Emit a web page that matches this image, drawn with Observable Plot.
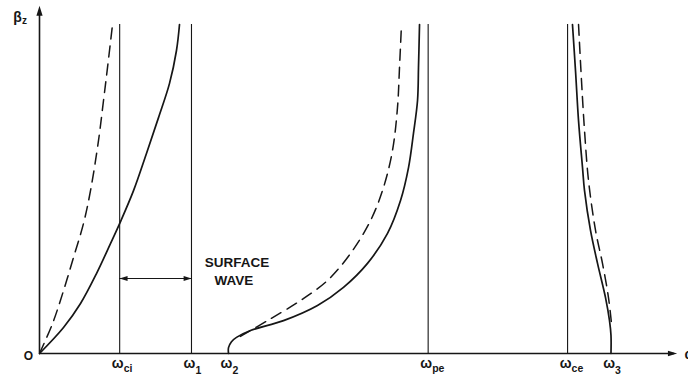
<!DOCTYPE html>
<html>
<head>
<meta charset="utf-8">
<script src="https://cdn.jsdelivr.net/npm/d3@7"></script>
<script src="https://cdn.jsdelivr.net/npm/@observablehq/plot@0.6"></script>
<style>
  html, body { margin: 0; padding: 0; background: #fff; }
  #chart svg { display: block; }
</style>
</head>
<body>
<div id="chart"></div>
<script>
// ---- data (ω in arbitrary units 0–100, β_z in arbitrary units, 100 = top of curves) ----
const freqNames  = ["ci", "1", "2", "pe", "ce", "3"];
const freqValues = [12.45, 23.6, 29.35, 60.35, 82.0, 88.75];
const verticalLineNames = ["ci", "1", "pe", "ce"];

// ion branch (low frequency)
const leftDashed = [[0,0],[2.02,9.1],[3.73,19.1],[5.28,29.2],[6.83,39.5],[7.92,49.5],[9.16,64.7],[9.94,76.9],[10.56,86.9],[11.34,100]];
const leftSolid  = [[0,0],[3.73,7.9],[6.37,15.2],[8.85,24.3],[11.02,33.4],[12.58,40.1],[14.60,49.5],[16.61,60.8],[18.48,71.7],[20.19,82.1],[21.27,92.1],[21.74,100]];

// middle branch (ω2 → ωpe)
const midSolid  = [[29.35,0],[29.35,1.8],[29.81,3.6],[30.59,4.9],[32.76,7.0],[37.89,10.0],[43.17,14.6],[47.20,20.1],[50.93,27.4],[54.04,36.5],[56.06,46.5],[57.30,56.5],[58.07,66.9],[58.70,76.9],[58.85,86.9],[59.01,100]];
const midDashed = [[31.2,5.2],[35.40,10.0],[40.53,16.1],[44.72,22.2],[48.29,30.4],[51.40,40.4],[53.42,50.5],[54.81,61.7],[55.59,74.8],[55.90,86.9],[56.21,100]];

// upper branch (ωce → ω3)
const rightSolid  = [[82.76,100],[83.23,86.0],[83.70,70.8],[84.32,56.5],[84.63,49.5],[85.56,37.4],[86.65,27.4],[87.89,17.0],[88.51,10.0],[88.74,5.5],[88.74,0]];
const rightDashed = [[83.70,100],[84.16,83.0],[84.63,67.8],[85.25,52.6],[86.34,37.4],[87.42,27.4],[88.35,17.0],[88.82,9.1]];

const surfaceWaveLevel = 22.8;
const surfaceLabel = ["SURFACE", "WAVE"];

// ---- helpers ----
const ink = "#161616";
const freq = name => freqValues[freqNames.indexOf(name)];
const xMax = 100, yMax = 105.78;

// narrow filled arrow-head symbol (points up before rotation)
const headSymbol = {
  draw(ctx, size) {
    const r = Math.sqrt(size / Math.PI);
    ctx.moveTo(0, -r);
    ctx.lineTo(0.62 * r, r);
    ctx.lineTo(-0.62 * r, r);
    ctx.closePath();
  }
};

const labels = freqNames.map((n, i) => ({name: n, x: freqValues[i]}));
const letterLabels = labels.filter(d => !/\d/.test(d.name));
const digitLabels = labels.filter(d => /\d/.test(d.name));
const curveOpts = {x: d => d[0], y: d => d[1], stroke: ink, strokeWidth: 1.7, curve: "catmull-rom"};
const dashOpts = {...curveOpts, strokeWidth: 1.5, strokeDasharray: "11,7"};
const font = "Liberation Sans, Arial, Helvetica, sans-serif";
const subOpts = {x: "x", y: () => 0, text: "name", dx: 4, fontSize: 10.5, fontWeight: "bold", fill: ink, textAnchor: "start", lineAnchor: "middle"};

const chart = Plot.plot({
  width: 688,
  height: 381,
  marginLeft: 39,
  marginRight: 5,
  marginTop: 5,
  marginBottom: 28,
  x: {domain: [0, xMax], axis: null},
  y: {domain: [0, yMax], axis: null},
  style: {background: "#fff", fontFamily: font},
  marks: [
    // axes
    Plot.ruleX([0], {y1: 0, y2: 104, stroke: ink, strokeWidth: 1.6}),
    Plot.ruleY([0], {x1: 0, x2: 98.6, stroke: ink, strokeWidth: 1.6}),
    Plot.dot([[0, 104.2]], {x: d => d[0], y: d => d[1], symbol: headSymbol, r: 5, fill: ink, stroke: null}),
    Plot.dot([[98.3, 0]], {x: d => d[0], y: d => d[1], symbol: headSymbol, r: 4.6, rotate: 90, fill: ink, stroke: null}),

    // resonance / cutoff vertical lines
    Plot.ruleX(verticalLineNames.map(freq), {y1: 0, y2: 100, stroke: ink, strokeWidth: 1.1}),

    // dispersion curves
    Plot.line(leftDashed, dashOpts),
    Plot.line(leftSolid, curveOpts),
    Plot.line(midDashed, dashOpts),
    Plot.line(midSolid, curveOpts),
    Plot.line(rightDashed, dashOpts),
    Plot.line(rightSolid, curveOpts),

    // surface-wave double arrow
    Plot.ruleY([surfaceWaveLevel], {x1: freq("ci"), x2: freq("1"), stroke: ink, strokeWidth: 1.2}),
    Plot.dot([freq("ci") + 0.6], {x: d => d, y: () => surfaceWaveLevel, symbol: headSymbol, r: 4, rotate: -90, fill: ink, stroke: null}),
    Plot.dot([freq("1") - 0.6], {x: d => d, y: () => surfaceWaveLevel, symbol: headSymbol, r: 4, rotate: 90, fill: ink, stroke: null}),
    Plot.text([surfaceLabel[0]], {x: () => 30.67, y: () => 27.66, text: d => d, fontSize: 13.5, fontWeight: "bold", fill: ink, textAnchor: "middle", lineAnchor: "middle"}),
    Plot.text([surfaceLabel[1]], {x: () => 30.2, y: () => 22.2, text: d => d, fontSize: 13.5, fontWeight: "bold", fill: ink, textAnchor: "middle", lineAnchor: "middle"}),

    // frequency labels ω with subscripts
    Plot.text(labels, {x: "x", y: () => 0, text: () => "ω", dx: -2, dy: 10, fontSize: 14, fontWeight: "bold", fill: ink, textAnchor: "middle", lineAnchor: "middle"}),
    Plot.text(letterLabels, {...subOpts, dy: 15.5}),
    Plot.text(digitLabels, {...subOpts, dy: 17}),

    // origin, axis labels
    Plot.text(["O"], {x: () => 0, y: () => 0, text: d => d, dx: -11, dy: 3, fontSize: 12, fontWeight: "bold", fill: ink, textAnchor: "middle", lineAnchor: "middle"}),
    Plot.text(["ω"], {x: () => 100, y: () => 0, text: d => d, dx: 1, dy: 1.5, fontSize: 14, fontWeight: "bold", fill: ink, textAnchor: "start", lineAnchor: "middle"}),
    Plot.text(["β"], {frameAnchor: "top-left", text: d => d, dx: -22, dy: 12, fontSize: 14, fontWeight: "bold", fill: ink, textAnchor: "middle", lineAnchor: "middle"}),
    Plot.text(["z"], {frameAnchor: "top-left", text: d => d, dx: -15, dy: 15, fontSize: 10, fontWeight: "bold", fill: ink, textAnchor: "middle", lineAnchor: "middle"})
  ]
});

document.getElementById("chart").appendChild(chart);
</script>
</body>
</html>
